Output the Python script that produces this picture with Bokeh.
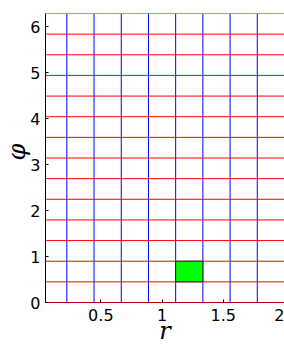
from bokeh.plotting import figure
from bokeh.models import Range1d, FixedTicker
from bokeh.embed import file_html
from bokeh.resources import INLINE

# grid edges (r: 10 edges, phi: 15 edges)
r_edges = [0.0, 0.2222, 0.4444, 0.6667, 0.8889, 1.1111, 1.3333, 1.5556, 1.7778, 2.0]
phi_edges = [0.0, 0.4488, 0.8976, 1.3464, 1.7952, 2.2440, 2.6928, 3.1416,
             3.5904, 4.0392, 4.4880, 4.9368, 5.3856, 5.8344, 6.2832]
# highlighted cell
cell_r = [1.1111, 1.3333]
cell_phi = [0.4488, 0.8976]
# ticks
x_ticks = [0.5, 1, 1.5, 2]
y_ticks = [0, 1, 2, 3, 4, 5, 6]
x_label = "r"
y_label = "\u2002φ"

r_min, r_max = min(r_edges), max(r_edges)
p_min, p_max = min(phi_edges), max(phi_edges)

p = figure(width=284, height=347, output_backend="svg", toolbar_location=None,
           x_range=Range1d(0.048, r_max), y_range=Range1d(p_min, p_max),
           min_border_left=45, min_border_right=0, min_border_top=13,
           min_border_bottom=45)
p.xgrid.visible = False
p.ygrid.visible = False
p.outline_line_color = None
p.background_fill_color = "white"
p.border_fill_color = "white"

for ax, ticks in ((p.xaxis[0], x_ticks), (p.yaxis[0], y_ticks)):
    ax.ticker = FixedTicker(ticks=ticks)
    ax.minor_tick_line_color = None
    ax.major_tick_in = 3
    ax.major_tick_out = 0
    ax.major_tick_line_color = "black"
    ax.major_label_text_font = "DejaVu Sans"
    ax.major_label_text_font_size = "16px"
    ax.major_label_text_color = "black"
    ax.axis_line_color = "black"
    ax.axis_label_text_font = "DejaVu Serif"
    ax.axis_label_text_font_style = "italic"
    ax.axis_label_text_color = "black"
    ax.axis_label_text_font_size = "24px"
p.xaxis[0].major_label_standoff = 6
p.yaxis[0].major_label_standoff = 5
p.xaxis[0].axis_line_color = "#B00000"
p.xaxis[0].axis_label = x_label
p.xaxis[0].axis_label_standoff = -7
p.yaxis[0].axis_label = y_label
p.yaxis[0].axis_label_standoff = -4

n = len(r_edges)
m = len(phi_edges)
p.segment(x0=r_edges, y0=[p_min] * n, x1=r_edges, y1=[p_max] * n,
          line_color="#0000FF", line_width=1)
p.segment(x0=[r_min] * m, y0=phi_edges, x1=[r_max] * m, y1=phi_edges,
          line_color="#FF0000", line_width=1)
p.quad(left=[cell_r[0]], right=[cell_r[1]], bottom=[cell_phi[0]], top=[cell_phi[1]],
       fill_color="#00FF00", line_color="#222222", line_width=1)

open("out.html", "w").write(file_html(p, INLINE))
